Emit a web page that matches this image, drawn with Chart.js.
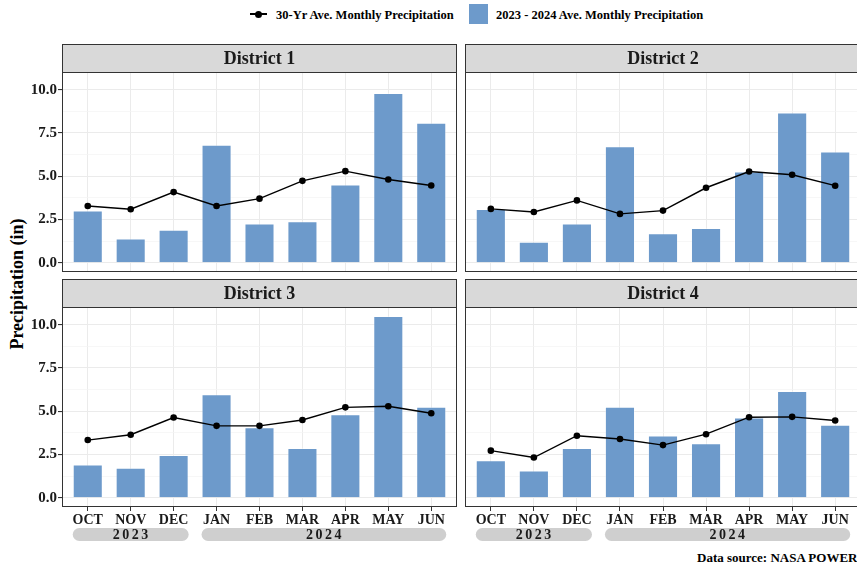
<!DOCTYPE html>
<html>
<head>
<meta charset="utf-8">
<script src="https://cdn.jsdelivr.net/npm/chart.js@4.4.0/dist/chart.umd.min.js"></script>
<style>
  html, body { margin:0; padding:0; background:#fff; width:857px; height:569px; overflow:hidden; }
  body { position:relative; font-family:"Liberation Serif", "Times New Roman", serif; font-weight:bold; color:#000; }
  canvas { position:absolute; }
  .abs { position:absolute; white-space:nowrap; }
  .lbl { font-size:12.5px; line-height:14px; }
</style>
</head>
<body>
<div class="abs" style="left:250px;top:13px;width:17px;height:1.6px;background:#000"></div>
<div class="abs" style="left:255px;top:10.5px;width:7px;height:7px;border-radius:50%;background:#000"></div>
<span class="abs lbl" style="left:276px;top:8px">30-Yr Ave. Monthly Precipitation</span>
<div class="abs" style="left:469px;top:4px;width:19px;height:20px;background:#6d9acb"></div>
<span class="abs lbl" style="left:496px;top:8px">2023 - 2024 Ave. Monthly Precipitation</span>

<div class="abs" style="left:-83px;top:273px;width:200px;text-align:center;font-size:18px;line-height:22px;transform:rotate(-90deg)">Precipitation (in)</div>

<canvas id="c1" width="460" height="229" style="left:0;top:44px"></canvas>
<canvas id="c2" width="400" height="229" style="left:465px;top:44px"></canvas>
<canvas id="c3" width="460" height="268" style="left:0;top:279px"></canvas>
<canvas id="c4" width="400" height="268" style="left:465px;top:279px"></canvas>

<span class="abs" style="left:697px;top:551px;font-size:13px;line-height:14px">Data source: NASA POWER</span>

<script>
const months = ['OCT', 'NOV', 'DEC', 'JAN', 'FEB', 'MAR', 'APR', 'MAY', 'JUN'];
const monthYears = [2023, 2023, 2023, 2024, 2024, 2024, 2024, 2024, 2024];
const districts = ['District 1', 'District 2', 'District 3', 'District 4'];

// 2023 - 2024 monthly precipitation (bars)
const obs1 = [3.02, 1.41, 1.91, 6.83, 2.28, 2.41, 4.53, 9.81, 8.09];
const obs2 = [3.12, 1.22, 2.28, 6.73, 1.72, 2.01, 5.28, 8.68, 6.44];
const obs3 = [1.93, 1.74, 2.48, 5.99, 4.08, 2.88, 4.83, 10.50, 5.27];
const obs4 = [2.18, 1.58, 2.88, 5.27, 3.61, 3.15, 4.64, 6.18, 4.22];

// 30-yr average (line)
const avg1 = [3.29, 3.10, 4.09, 3.29, 3.71, 4.74, 5.30, 4.82, 4.47];
const avg2 = [3.12, 2.94, 3.61, 2.83, 3.02, 4.34, 5.28, 5.09, 4.46];
const avg3 = [3.34, 3.65, 4.64, 4.16, 4.16, 4.50, 5.23, 5.29, 4.89];
const avg4 = [2.73, 2.33, 3.59, 3.40, 3.05, 3.68, 4.66, 4.68, 4.47];

const yMajor = [0, 2.5, 5, 7.5, 10];
const yMinor = [1.25, 3.75, 6.25, 8.75];

const serif = '"Liberation Serif", "Times New Roman", serif';
const barColor = '#6d9acb';

const noPad = s => { s.paddingLeft = 0; s.paddingRight = 0; s.paddingTop = 0; s.paddingBottom = 0; };

// grey strip on top, panel border, year pills under the x axis
const facetPlugin = {
    id: 'facet',
    beforeDraw(chart, args, opts) {
        const ctx = chart.ctx, a = chart.chartArea;
        ctx.save();
        ctx.fillStyle = '#d9d9d9';
        ctx.fillRect(a.left, a.top - 28, a.right - a.left, 28);
        ctx.strokeStyle = '#333';
        ctx.lineWidth = 1;
        ctx.strokeRect(a.left + 0.5, a.top - 27.5, a.right - a.left - 1, 28);
        ctx.fillStyle = '#1a1a1a';
        ctx.font = 'bold 18px ' + serif;
        ctx.textAlign = 'center';
        ctx.textBaseline = 'middle';
        ctx.fillText(opts.title, (a.left + a.right) / 2, a.top - 13);
        ctx.restore();
    },
    afterDraw(chart, args, opts) {
        const ctx = chart.ctx, a = chart.chartArea;
        ctx.save();
        ctx.strokeStyle = '#333';
        ctx.lineWidth = 1;
        ctx.strokeRect(a.left + 0.5, a.top + 0.5, a.right - a.left - 1, a.bottom - a.top - 1);
        if (opts.years) {
            const x = chart.scales.x;
            const step = x.getPixelForValue(1) - x.getPixelForValue(0);
            [...new Set(monthYears)].forEach(yr => {
                const idx = monthYears.map((y, i) => y === yr ? i : -1).filter(i => i >= 0);
                const l = x.getPixelForValue(idx[0]) - step * 0.35;
                const r = x.getPixelForValue(idx[idx.length - 1]) + step * 0.35;
                const top = a.bottom + 21, h = 13;
                ctx.fillStyle = '#cfcfcf';
                ctx.beginPath();
                ctx.roundRect(l, top, r - l, h, h / 2);
                ctx.fill();
                ctx.fillStyle = '#1a1a1a';
                ctx.font = 'bold 14px ' + serif;
                ctx.letterSpacing = '2.5px';
                ctx.textAlign = 'center';
                ctx.textBaseline = 'middle';
                ctx.fillText(String(yr), (l + r) / 2 + 1, top + h / 2 + 1);
            });
        }
        ctx.restore();
    }
};

const makeChart = (id, title, obs, avg, showY, showX) => {
    new Chart(document.getElementById(id), {
        type: 'bar',
        data: {
            datasets: [{
                type: 'line',
                label: '30-Yr Ave. Monthly Precipitation',
                data: avg.map((v, i) => ({ x: i, y: v })),
                borderColor: '#000',
                backgroundColor: '#000',
                borderWidth: 1.4,
                pointRadius: 3.3,
                pointBorderWidth: 0,
                tension: 0,
                order: 0
            }, {
                label: '2023 - 2024 Ave. Monthly Precipitation',
                data: obs.map((v, i) => ({ x: i, y: v })),
                backgroundColor: barColor,
                borderColor: 'rgba(255,255,255,0.35)',
                borderWidth: 1,
                barPercentage: 0.7,
                categoryPercentage: 1,
                order: 1
            }]
        },
        plugins: [facetPlugin],
        options: {
            responsive: false,
            animation: false,
            layout: { autoPadding: false, padding: { top: 28, right: showY ? 3 : 4, bottom: showX ? 0 : 1, left: 0 } },
            plugins: {
                legend: { display: false },
                tooltip: { enabled: false },
                facet: { title: title, years: showX }
            },
            scales: {
                x: {
                    type: 'linear',
                    offset: false,
                    min: -0.6,
                    max: 8.6,
                    afterBuildTicks: s => { s.ticks = months.map((m, i) => ({ value: i })); },
                    afterFit: s => { s.height = showX ? 40 : 0; noPad(s); },
                    ticks: {
                        display: showX,
                        callback: v => months[v],
                        color: '#1a1a1a',
                        font: { family: serif, size: 14, weight: 'bold' },
                        padding: 1,
                        maxRotation: 0,
                        autoSkip: false
                    },
                    grid: { offset: false, color: '#ebebeb', lineWidth: 1, drawTicks: showX, tickLength: 4, tickColor: '#333' },
                    border: { display: false }
                },
                y: {
                    min: -0.525,
                    max: 11.025,
                    afterBuildTicks: s => { s.ticks = yMajor.concat(yMinor).map(v => ({ value: v })); },
                    afterFit: s => { s.width = showY ? 62 : 0; noPad(s); },
                    ticks: {
                        display: showY,
                        callback: v => yMajor.includes(v) ? v.toFixed(1) : '',
                        color: '#1a1a1a',
                        font: { family: serif, size: 15, weight: 'bold' },
                        padding: 1
                    },
                    grid: {
                        color: c => yMajor.includes(c.tick.value) ? '#ebebeb' : '#f3f3f3',
                        lineWidth: c => yMajor.includes(c.tick.value) ? 1.1 : 0.7,
                        drawTicks: showY,
                        tickLength: 4,
                        tickColor: c => yMajor.includes(c.tick.value) ? '#333' : 'rgba(0,0,0,0)'
                    },
                    border: { display: false }
                }
            }
        }
    });
};

makeChart('c1', districts[0], obs1, avg1, true, false);
makeChart('c2', districts[1], obs2, avg2, false, false);
makeChart('c3', districts[2], obs3, avg3, true, true);
makeChart('c4', districts[3], obs4, avg4, false, true);
</script>
</body>
</html>
